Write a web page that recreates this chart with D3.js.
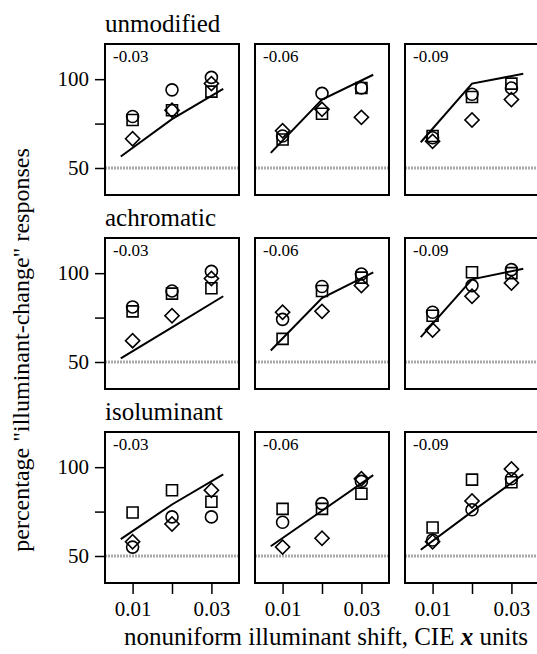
<!DOCTYPE html>
<html>
<head>
<meta charset="utf-8">
<script src="https://cdn.jsdelivr.net/npm/d3@7"></script>
<style>
  html, body { margin: 0; padding: 0; background: #fff; }
  svg { display: block; }
</style>
</head>
<body>
<script>
// ---------------- data ----------------
const conditions = ["unmodified", "achromatic", "isoluminant"];
const shifts = ["-0.03", "-0.06", "-0.09"];
const xValues = [0.01, 0.02, 0.03];
const lineX = [0.007, 0.02, 0.033];
const xTickValues = [0.01, 0.02, 0.03];
const xTickLabels = ["0.01", "", "0.03"];
const yTickValues = [50, 75, 100];
const yTickLabels = ["50", "", "100"];
const chanceLevel = 50;

// rows: condition, columns: shift; each entry values at xValues
const circleData = [
  [[79, 94, 101], [68, 92, 95], [67, 91.5, 95]],
  [[81, 90, 101], [74, 92.5, 99.5], [78, 93, 102]],
  [[55, 72, 72], [69, 79.5, 92], [59, 76, 93.5]]
];
const squareData = [
  [[77, 82.5, 93], [66, 80.5, 95], [68, 90, 97.5]],
  [[78.5, 88.5, 91.5], [63, 90, 97.5], [76, 100.5, 100]],
  [[74.5, 87, 80.5], [76.5, 76.5, 85], [66, 93, 91.5]]
];
const diamondData = [
  [[66.5, 82.5, 97.5], [71, 83, 78.5], [65, 77, 88.5]],
  [[62, 76, 97], [78, 78.5, 93], [68, 87, 94.5]],
  [[58, 68, 87], [55, 60, 93.5], [58, 81, 99]]
];
// model fit evaluated at lineX
const fitData = [
  [[56.5, 77.5, 94.5], [58.5, 88.5, 102.5], [64.5, 97.5, 103]],
  [[52, 69.5, 87], [56.5, 86, 100.5], [64, 96.5, 102.5]],
  [[59.5, 79, 96], [55.5, 75.5, 95.5], [53.5, 75, 96]]
];

// ---------------- layout ----------------
const W = 537, H = 654;
const panelW = 134, panelH = 151;
const left0 = 105, top0 = 44, gapX = 16, gapY = 43;
const FONT = "'Liberation Serif', 'Times New Roman', Tinos, 'DejaVu Serif', serif";

const svg = d3.select("body").append("svg").attr("width", W).attr("height", H)
  .attr("font-family", FONT);

const x = d3.scaleLinear().domain([0.003, 0.037]).range([0, panelW]);
const y = d3.scaleLinear().domain([34.8, 119.8]).range([panelH, 0]);

const line = d3.line().x(d => x(d[0])).y(d => y(d[1]));

const symCircle = d3.symbol().type(d3.symbolCircle).size(Math.PI * 6 * 6)();
const symSquare = d3.symbol().type(d3.symbolSquare).size(11 * 11)();
const symDiamond = d3.symbol().type(d3.symbolSquare).size(10 * 10)();

conditions.forEach((cond, r) => {
  const rowTop = top0 + r * (panelH + gapY);
  svg.append("text")
    .attr("x", left0).attr("y", rowTop - 12)
    .attr("font-family", FONT).attr("font-size", 25)
    .text(cond);

  shifts.forEach((sh, c) => {
    const g = svg.append("g")
      .attr("transform", `translate(${left0 + c * (panelW + gapX)},${rowTop})`);

    // chance line (stippled gray)
    g.append("line")
      .attr("x1", 0).attr("x2", panelW)
      .attr("y1", y(chanceLevel)).attr("y2", y(chanceLevel))
      .attr("stroke", "#aaa").attr("stroke-width", 3)
      .attr("stroke-dasharray", "2,1");

    // model fit
    g.append("path")
      .datum(lineX.map((xv, i) => [xv, fitData[r][c][i]]))
      .attr("d", line)
      .attr("fill", "none").attr("stroke", "#000").attr("stroke-width", 2);

    const drawMarks = (data, sym, rot) => {
      g.selectAll(null)
        .data(xValues.map((xv, i) => [xv, data[i]]))
        .enter().append("path")
        .attr("d", sym)
        .attr("transform", d => `translate(${x(d[0])},${y(d[1])})` + (rot ? " rotate(45)" : ""))
        .attr("fill", "none").attr("stroke", "#000").attr("stroke-width", 1.6);
    };
    drawMarks(circleData[r][c], symCircle, false);
    drawMarks(squareData[r][c], symSquare, false);
    drawMarks(diamondData[r][c], symDiamond, true);

    // frame
    g.append("rect")
      .attr("x", 0).attr("y", 0).attr("width", panelW).attr("height", panelH)
      .attr("fill", "none").attr("stroke", "#000").attr("stroke-width", 2);

    // panel label
    g.append("text")
      .attr("x", 8).attr("y", 18)
      .attr("font-family", FONT).attr("font-size", 17)
      .text(sh);

    if (c === 0) {
      const ya = g.append("g")
        .call(d3.axisLeft(y).tickValues(yTickValues)
          .tickFormat((d, i) => yTickLabels[i]).tickSize(10).tickPadding(6));
      ya.attr("font-family", FONT).attr("font-size", 21);
      ya.select(".domain").remove();
      ya.selectAll("line").attr("stroke-width", 1.5);
    }
    if (r === conditions.length - 1) {
      const xa = g.append("g").attr("transform", `translate(0,${panelH})`)
        .call(d3.axisBottom(x).tickValues(xTickValues)
          .tickFormat((d, i) => xTickLabels[i]).tickSize(11).tickPadding(7));
      xa.attr("font-family", FONT).attr("font-size", 21);
      xa.select(".domain").remove();
      xa.selectAll("line").attr("stroke-width", 1.5);
    }
  });
});

// axis titles
svg.append("text")
  .attr("transform", "translate(29,350) rotate(-90)")
  .attr("text-anchor", "middle")
  .attr("font-family", FONT).attr("font-size", 24)
  .text("percentage \"illuminant-change\" responses");

const xt = svg.append("text")
  .attr("x", 326).attr("y", 645)
  .attr("text-anchor", "middle")
  .attr("font-family", FONT).attr("font-size", 25);
xt.append("tspan").text("nonuniform illuminant shift, CIE ");
xt.append("tspan").attr("font-weight", "bold").attr("font-style", "italic").text("x");
xt.append("tspan").text(" units");
</script>
</body>
</html>
